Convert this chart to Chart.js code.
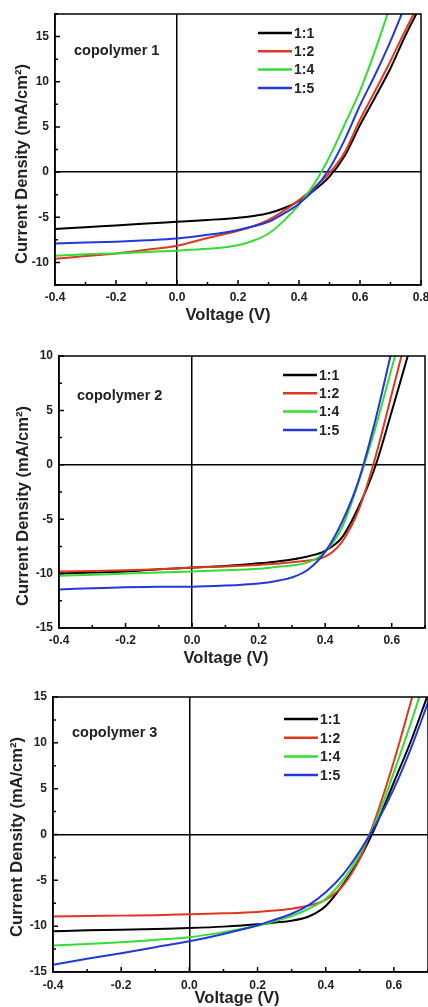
<!DOCTYPE html>
<html>
<head>
<meta charset="utf-8">
<script src="https://cdn.jsdelivr.net/npm/chart.js@4/dist/chart.umd.min.js"></script>
<style>
  html, body { margin: 0; padding: 0; background: #fff; }
  canvas { display: block; }
</style>
</head>
<body>
<canvas id="c1" width="428" height="330"></canvas>
<canvas id="c2" width="428" height="340"></canvas>
<canvas id="c3" width="428" height="337"></canvas>
<script>
// legend labels and colours
const seriesNames = ['1:1', '1:2', '1:4', '1:5'];
const seriesColors = ['#000000', '#e2371f', '#33dd33', '#2038dc'];

// voltage samples (V)
const volts = [-0.4, -0.3, -0.2, -0.1, 0, 0.1, 0.2, 0.25, 0.3, 0.35, 0.4, 0.45, 0.5, 0.55, 0.6, 0.65, 0.7, 0.75, 0.8];

// copolymer 1 current density (mA/cm2)
const p1_11 = [-6.3, -6.1, -5.9, -5.7, -5.5, -5.3, -5.05, -4.85, -4.55, -4.0, -3.2, -2.0, -0.5, 1.8, 5.2, 8.3, 11.5, 15.2, 18.5];
const p1_12 = [-9.6, -9.3, -9.0, -8.6, -8.15, -7.3, -6.5, -6.0, -5.3, -4.3, -3.1, -1.7, -0.1, 2.2, 5.8, 9.0, 12.3, 15.8, 19.0];
const p1_14 = [-9.25, -9.1, -9.0, -8.85, -8.7, -8.5, -8.1, -7.6, -6.8, -5.4, -3.6, -1.3, 1.7, 5.3, 9.0, 13.5, 18.5];
const p1_15 = [-7.9, -7.8, -7.7, -7.55, -7.35, -6.95, -6.4, -6.0, -5.5, -4.6, -3.5, -1.9, 0.4, 3.6, 7.4, 10.8, 14.5, 18.6];

// copolymer 2
const p2_11 = [-10.0, -9.9, -9.8, -9.6, -9.45, -9.3, -9.05, -8.9, -8.7, -8.4, -7.9, -6.7, -3.9, -0.2, 4.9, 10.2];
const p2_12 = [-9.8, -9.75, -9.7, -9.6, -9.45, -9.35, -9.2, -9.1, -8.95, -8.8, -8.45, -7.1, -4.2, 0.6, 6.5, 12.5];
const p2_14 = [-10.2, -10.1, -10.0, -9.9, -9.8, -9.7, -9.55, -9.4, -9.25, -8.95, -8.0, -5.8, -1.6, 3.3, 8.9, 14.5];
const p2_15 = [-11.45, -11.35, -11.25, -11.2, -11.2, -11.1, -10.9, -10.7, -10.35, -9.6, -8.0, -5.3, -1.5, 4.0, 10.5];

// copolymer 3
const p3_11 = [-10.55, -10.45, -10.4, -10.3, -10.2, -10.05, -9.8, -9.6, -9.4, -8.95, -7.8, -5.5, -2.6, 1.2, 5.7, 10.2, 15.3];
const p3_12 = [-8.95, -8.9, -8.85, -8.8, -8.7, -8.6, -8.45, -8.3, -8.1, -7.75, -7.1, -5.6, -2.6, 2.2, 8.0, 14.5, 21.0];
const p3_14 = [-12.1, -11.95, -11.75, -11.5, -11.2, -10.65, -9.95, -9.45, -8.9, -8.1, -7.0, -5.0, -2.1, 1.7, 6.8, 12.2, 18.0];
const p3_15 = [-14.2, -13.55, -12.95, -12.3, -11.65, -10.85, -9.9, -9.3, -8.65, -7.7, -6.3, -4.4, -1.8, 1.3, 5.0, 9.4, 14.4];

// axis ticks
const xTicks1 = [-0.4, -0.2, 0, 0.2, 0.4, 0.6, 0.8];
const xTicks23 = [-0.4, -0.2, 0, 0.2, 0.4, 0.6];
const yTicks1 = [-10, -5, 0, 5, 10, 15];
const yTicks2 = [-15, -10, -5, 0, 5, 10];
const yTicks3 = [-15, -10, -5, 0, 5, 10, 15];

const FONT = 'Liberation Sans, Arial, sans-serif';

function pts(ys) {
  return ys.map((y, i) => ({ x: volts[i], y: y }));
}

// frame, inward ticks, inset label, legend and axis titles
const decor = {
  id: 'decor',
  afterDraw(chart) {
    const o = chart.options.plugins.decor;
    const ctx = chart.ctx;
    const a = chart.chartArea;
    const xs = chart.scales.x, ys = chart.scales.y;
    ctx.save();
    ctx.strokeStyle = '#000';
    ctx.lineWidth = 1.5;
    ctx.strokeRect(a.left, a.top, a.right - a.left, a.bottom - a.top);

    // ticks
    ctx.lineWidth = 1.5;
    ctx.beginPath();
    for (let v = xs.min; v <= xs.max + 1e-9; v += 0.1) {
      const px = xs.getPixelForValue(v);
      const major = Math.abs(Math.round(v * 10)) % 2 === 0;
      ctx.moveTo(px, a.bottom);
      ctx.lineTo(px, a.bottom - (major ? 5 : 3));
    }
    for (let v = Math.ceil(ys.min / 2.5) * 2.5; v <= ys.max + 1e-9; v += 2.5) {
      const py = ys.getPixelForValue(v);
      const major = Math.abs(v) % 5 === 0;
      ctx.moveTo(a.left, py);
      ctx.lineTo(a.left + (major ? 5 : 3), py);
    }
    ctx.stroke();

    // inset label
    ctx.fillStyle = '#222';
    ctx.font = 'bold 14.5px ' + FONT;
    ctx.textBaseline = 'middle';
    ctx.textAlign = 'left';
    ctx.fillText(o.label, o.labelX, o.labelY);

    // legend
    ctx.font = 'bold 14px ' + FONT;
    seriesNames.forEach((n, i) => {
      const y = o.legY + i * o.legStep;
      ctx.strokeStyle = seriesColors[i];
      ctx.lineWidth = 2.5;
      ctx.beginPath();
      ctx.moveTo(o.legX, y);
      ctx.lineTo(o.legX + 34, y);
      ctx.stroke();
      ctx.fillStyle = '#222';
      ctx.fillText(n, o.legX + 36, y + 1);
    });

    // axis titles
    ctx.font = 'bold 16.5px ' + FONT;
    ctx.textAlign = 'center';
    ctx.fillText('Voltage (V)', o.xtX, o.xtY);
    ctx.translate(o.ytX, o.ytY);
    ctx.rotate(-Math.PI / 2);
    ctx.fillText('Current Density (mA/cm\u00B2)', 0, 0);
    ctx.restore();
  }
};

function makeChart(id, series, xr, yr, xTicks, yTicks, box, deco) {
  const canvas = document.getElementById(id);
  const datasets = series.map((s, i) => ({
    label: seriesNames[i],
    data: pts(s),
    borderColor: seriesColors[i],
    borderWidth: 2,
    pointRadius: 0,
    cubicInterpolationMode: 'monotone',
    order: 3 - i
  }));
  const zeroGrid = {
    drawTicks: false,
    lineWidth: 1.5,
    color: (c) => (c.tick && c.tick.value === 0 ? '#000' : 'rgba(0,0,0,0)')
  };
  return new Chart(canvas, {
    type: 'line',
    data: { datasets: datasets },
    options: {
      responsive: false,
      animation: false,
      layout: { padding: { top: box.top, right: canvas.width - box.right, left: 0, bottom: 0 } },
      plugins: { legend: { display: false }, tooltip: { enabled: false }, decor: deco },
      scales: {
        x: {
          type: 'linear', min: xr[0], max: xr[1],
          afterBuildTicks: (s) => { s.ticks = xTicks.map(v => ({ value: v })); },
          afterFit: (s) => {
            s.height = canvas.height - box.bottom;
            s.paddingLeft = 0; s.paddingRight = 0;
          },
          grid: zeroGrid,
          border: { display: true, color: '#000', width: 1.5 },
          ticks: {
            padding: box.xPad, color: '#222', maxRotation: 0, autoSkip: false,
            font: { family: FONT, size: 12, weight: 'bold' },
            callback: (v) => Number(v).toFixed(1)
          }
        },
        y: {
          type: 'linear', min: yr[0], max: yr[1],
          afterBuildTicks: (s) => { s.ticks = yTicks.map(v => ({ value: v })); },
          afterFit: (s) => {
            s.width = box.left;
            s.paddingTop = 0; s.paddingBottom = 0;
          },
          grid: zeroGrid,
          border: { display: true, color: '#000', width: 1.5 },
          ticks: {
            padding: 6, color: '#222', autoSkip: false,
            font: { family: FONT, size: 12, weight: 'bold' },
            callback: (v) => String(v)
          }
        }
      }
    },
    plugins: [decor]
  });
}

makeChart('c1', [p1_11, p1_12, p1_14, p1_15], [-0.4, 0.8], [-12.5, 17.5], xTicks1, yTicks1,
  { left: 55, top: 14, right: 421, bottom: 285, xPad: 5 },
  { label: 'copolymer 1', labelX: 74, labelY: 51, legX: 258, legY: 33, legStep: 18.3,
    xtX: 228, xtY: 315, ytX: 22, ytY: 164 });

makeChart('c2', [p2_11, p2_12, p2_14, p2_15], [-0.4, 0.7], [-15, 10], xTicks23, yTicks2,
  { left: 59, top: 26, right: 425, bottom: 298, xPad: 5 },
  { label: 'copolymer 2', labelX: 77, labelY: 66, legX: 283, legY: 45, legStep: 18.3,
    xtX: 226, xtY: 328, ytX: 23, ytY: 176 });

makeChart('c3', [p3_11, p3_12, p3_14, p3_15], [-0.4, 0.7], [-15, 15], xTicks23, yTicks3,
  { left: 53, top: 27, right: 429, bottom: 302, xPad: 6 },
  { label: 'copolymer 3', labelX: 72, labelY: 63, legX: 284, legY: 49, legStep: 18.7,
    xtX: 237, xtY: 328, ytX: 17, ytY: 167 });
</script>
</body>
</html>
